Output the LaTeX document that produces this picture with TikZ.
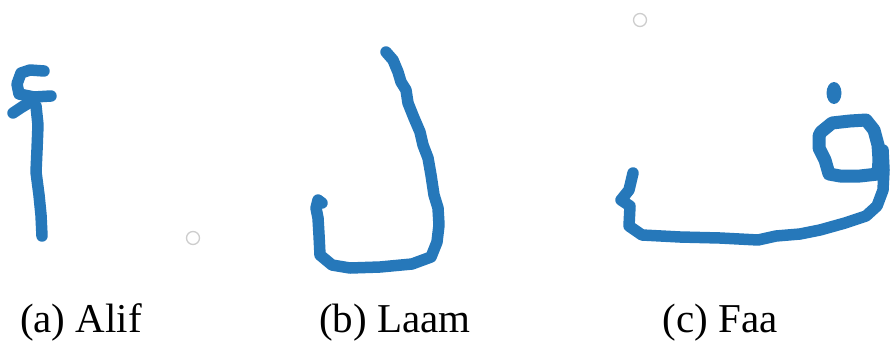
\documentclass[tikz,border=0pt]{standalone}
\usepackage{fontspec}
\setmainfont{Liberation Serif}
\definecolor{inkblue}{RGB}{38,120,186}
\definecolor{ringgrey}{RGB}{205,205,205}
\tikzset{
  ink/.style={draw=inkblue, line width=11.5pt, line cap=round, line join=round},
  ring/.style={draw=ringgrey, line width=1.3pt},
  captxt/.style={anchor=base, inner sep=0pt, font=\fontsize{41}{48}\selectfont}
}
\begin{document}
\begin{tikzpicture}[x=1pt, y=-1pt]
\useasboundingbox (0,0) rectangle (890,343);
% Alif
\draw[ink] (44,71) -- (30,70) -- (21,73) -- (17,84) -- (19,94) -- (34,97) -- (51,96);
\draw[ink] (32,101) -- (22,107) -- (13,113);
\draw[ink] (36,106) -- (38,125) -- (37,150) -- (36,172) -- (39,195) -- (41,215) -- (42,236);
% Laam
\draw[ink] (386,52) -- (393,60) -- (398,72) -- (401,82) -- (406,90) -- (408,103) -- (414,118) -- (420,132) -- (423,145) -- (428,158) -- (431,175) -- (434,195) -- (438,208) -- (439,225) -- (437,242) -- (431,257) -- (412,264) -- (380,267) -- (350,268) -- (332,265) -- (320,255) -- (319,235) -- (318,218) -- (316,208) -- (318,200) -- (322,203);
% Faa
\draw[ink] (633,173) -- (629,190) -- (621,200) -- (630,206) -- (629,226) -- (642,235) -- (680,237) -- (720,238) -- (758,240) -- (776,236) -- (800,234) -- (820,230) -- (845,223) -- (866,216) -- (877,206) -- (883,190) -- (884,170) -- (883,150);
\draw[ink, line width=13pt] (821,132) -- (832,123) -- (850,121) -- (866,120) -- (874,130) -- (878,145) -- (879,160) -- (878,174) -- (860,176) -- (840,176) -- (829,174) -- (825,160) -- (819,148) -- (819,136) -- cycle;
\fill[inkblue] (834,93) ellipse (7.5pt and 11pt);
% rings
\draw[ring] (193,238) circle (6.5pt);
\draw[ring] (640,20) circle (6.5pt);
% captions
\node[captxt] (ca) at (81,332) {(a) Alif};
\node[captxt] (cb) at (395,332) {(b) Laam};
\node[captxt] (cc) at (720,332) {(c) Faa};
\end{tikzpicture}
\end{document}
